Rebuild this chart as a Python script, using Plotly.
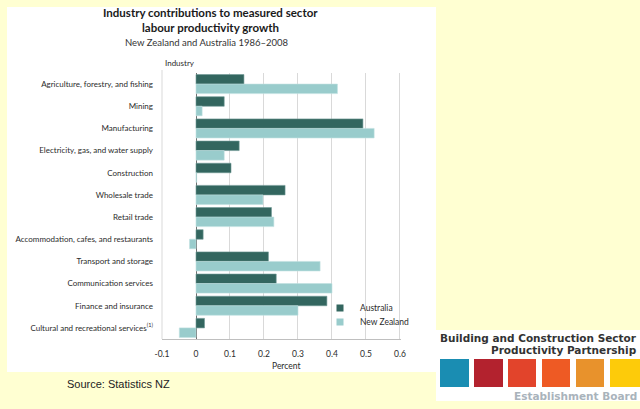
import plotly.graph_objects as go

industries = [
    "Agriculture, forestry, and fishing",
    "Mining",
    "Manufacturing",
    "Electricity, gas, and water supply",
    "Construction",
    "Wholesale trade",
    "Retail trade",
    "Accommodation, cafes, and restaurants",
    "Transport and storage",
    "Communication services",
    "Finance and insurance",
    "Cultural and recreational services<sup>(1)</sup>",
]
australia = [0.141, 0.083, 0.491, 0.127, 0.103, 0.262, 0.222, 0.021, 0.213, 0.236, 0.385, 0.025]
new_zealand = [0.416, 0.018, 0.524, 0.083, 0.002, 0.197, 0.229, -0.019, 0.365, 0.400, 0.300, -0.049]
x_ticks = [-0.1, 0, 0.1, 0.2, 0.3, 0.4, 0.5, 0.6]
x_ticklabels = ["-0.1", "0", "0.1", "0.2", "0.3", "0.4", "0.5", "0.6"]
logo_colors = ["#1A8DB2", "#B3222E", "#E2442B", "#EE5A24", "#E8922C", "#FDCB0A"]

W, H = 640, 409
def px(x):
    return x / W
def py(y):
    return 1 - y / H

AU_COL = "#33665F"
NZ_COL = "#99CCCC"
FONT = "Lato"
TXT = "#2b2b2b"

fig = go.Figure()
fig.add_trace(go.Bar(
    y=industries, x=australia, name="Australia", orientation="h", showlegend=False,
    marker=dict(color=AU_COL, line=dict(color="#6E9995", width=0.6)),
))
fig.add_trace(go.Bar(
    y=industries, x=new_zealand, name="New Zealand", orientation="h", showlegend=False,
    marker=dict(color=NZ_COL, line=dict(color="#BFE0E0", width=0.6)),
))
# legend entries (small square keys like the reference)
for name, col, lg in [("Australia", AU_COL, "legend"), ("New Zealand", NZ_COL, "legend2")]:
    fig.add_trace(go.Scatter(
        x=[None], y=[None], mode="markers", name=name, showlegend=True, legend=lg,
        marker=dict(symbol="square", size=7, color=col, line=dict(width=0)),
    ))

shapes = [
    dict(type="rect", xref="paper", yref="paper", x0=px(7), x1=px(436), y0=py(372), y1=py(7),
         fillcolor="white", line=dict(width=0), layer="below"),
    dict(type="rect", xref="paper", yref="paper", x0=px(436), x1=px(640), y0=py(401), y1=py(330),
         fillcolor="white", line=dict(width=0), layer="below"),
    dict(type="line", xref="paper", yref="paper", x0=px(162), x1=px(162), y0=py(339), y1=py(70),
         line=dict(color="#D9D9D9", width=1)),
]
logo_x = [(440, 469), (474, 503), (508, 536), (542, 570), (576, 604), (610, 640)]
for (a, b), c in zip(logo_x, logo_colors):
    shapes.append(dict(type="rect", xref="paper", yref="paper", x0=px(a), x1=px(b),
                       y0=py(387), y1=py(359), fillcolor=c, line=dict(width=0)))

annotations = [
    dict(text="<b>Industry contributions to measured sector</b>", x=px(210), y=py(13),
         font=dict(family=FONT, size=11.5, color="#1a1a1a")),
    dict(text="<b>labour productivity growth</b>", x=px(210), y=py(28),
         font=dict(family=FONT, size=11.5, color="#1a1a1a")),
    dict(text="New Zealand and Australia 1986\u20132008", x=px(206), y=py(42),
         font=dict(family=FONT, size=9.5, color="#333333")),
    dict(text="Industry", x=px(163), y=py(63), xanchor="left",
         font=dict(family=FONT, size=8, color=TXT)),
    dict(text="Percent", x=px(286), y=py(366),
         font=dict(family=FONT, size=8.5, color=TXT)),
    dict(text="Source: Statistics NZ", x=px(65), y=py(384), xanchor="left",
         font=dict(family="Liberation Sans", size=11, color="#222222")),
    dict(text="<b>Building and Construction Sector</b>", x=px(639), y=py(338), xanchor="right",
         font=dict(family="DejaVu Sans", size=10.5, color="#333333")),
    dict(text="<b>Productivity Partnership</b>", x=px(639), y=py(349.5), xanchor="right",
         font=dict(family="DejaVu Sans", size=10.5, color="#333333")),
    dict(text="<b>Establishment Board</b>", x=px(639), y=py(395.5), xanchor="right",
         font=dict(family="DejaVu Sans", size=10.5, color="#A9B3BB")),
]
for a in annotations:
    a.update(xref="paper", yref="paper", showarrow=False, yanchor="middle")
    a.setdefault("xanchor", "center")

leg_common = dict(xanchor="left", yanchor="middle",
                  font=dict(family=FONT, size=8.5, color=TXT),
                  bgcolor="rgba(0,0,0,0)", itemwidth=30, tracegroupgap=0)

fig.update_layout(
    width=W, height=H,
    margin=dict(l=0, r=0, t=0, b=0, autoexpand=False),
    paper_bgcolor="#FFFFD2",
    plot_bgcolor="white",
    barmode="group",
    bargap=0.14,
    bargroupgap=0.0,
    shapes=shapes,
    annotations=annotations,
    showlegend=True,
    legend=dict(x=px(320), y=py(308), **leg_common),
    legend2=dict(x=px(320), y=py(322), **leg_common),
    font=dict(family=FONT),
)
fig.update_xaxes(
    domain=[px(162), px(401)],
    range=[-0.1, 0.603],
    tickvals=x_ticks, ticktext=x_ticklabels,
    showgrid=True, gridcolor="#D9D9D9", gridwidth=1,
    zeroline=True, zerolinecolor="#707070", zerolinewidth=1,
    showline=True, linecolor="#BFBFBF", linewidth=1,
    tickfont=dict(family=FONT, size=8.5, color=TXT),
    ticks="", ticklabelstandoff=7, automargin=False,
)
fig.update_yaxes(
    domain=[py(339), py(73)],
    autorange="reversed",
    showgrid=False, showline=False, ticks="",
    tickfont=dict(family=FONT, size=8, color=TXT),
    ticklabelstandoff=8, automargin=False,
)

fig.write_html("out.html")
